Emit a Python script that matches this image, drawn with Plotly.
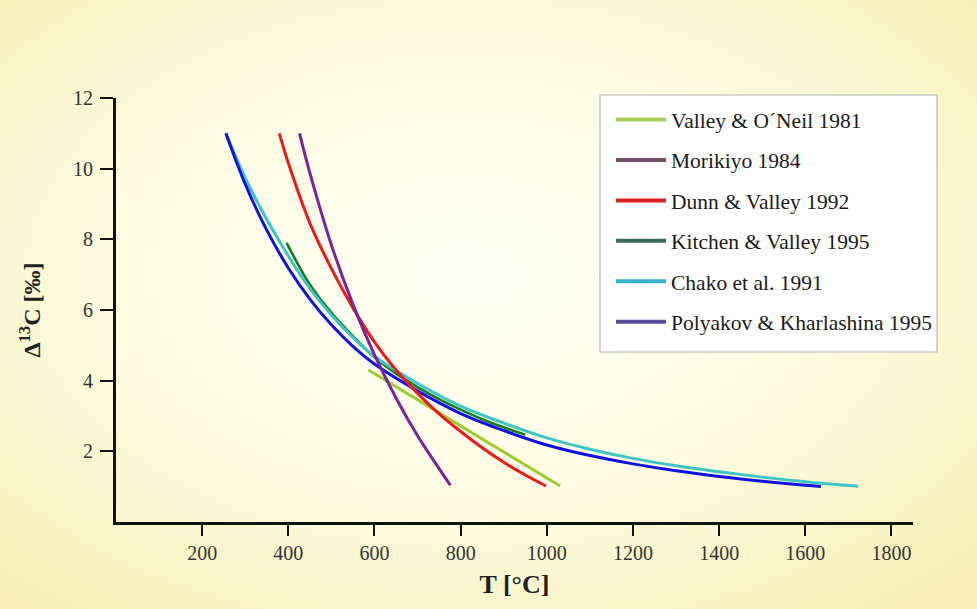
import base64
import plotly.graph_objects as go

# Carbon isotope fractionation calibrations: temperature (°C) vs Δ13C (‰)
series_names = [
    "Valley & O´Neil 1981",
    "Morikiyo 1984",
    "Dunn & Valley 1992",
    "Kitchen & Valley 1995",
    "Chako et al. 1991",
    "Polyakov & Kharlashina 1995",
]

valley_oneil_T = [586, 700, 800, 900, 1031]
valley_oneil_D = [4.30, 3.46, 2.72, 1.98, 1.02]

morikiyo_T = [426, 450, 500, 550, 600, 650, 700, 750, 776]
morikiyo_D = [11.0, 9.88, 7.84, 6.16, 4.73, 3.51, 2.44, 1.51, 1.04]

dunn_valley_T = [379, 400, 450, 500, 550, 600, 650, 700, 750, 800, 850, 900, 950, 998]
dunn_valley_D = [11.0, 10.16, 8.46, 7.17, 6.06, 5.09, 4.30, 3.64, 3.06, 2.56, 2.10, 1.69, 1.33, 1.02]

kitchen_valley_T = [396, 450, 500, 550, 600, 650, 700, 750, 800, 850, 900, 950]
kitchen_valley_D = [7.9, 6.72, 5.92, 5.26, 4.66, 4.20, 3.82, 3.48, 3.18, 2.91, 2.68, 2.47]

chako_T = [255, 300, 350, 400, 450, 500, 550, 600, 700, 800, 900, 1000, 1100, 1200, 1300, 1400, 1500, 1600, 1723]
chako_D = [11.0, 9.74, 8.56, 7.53, 6.61, 5.86, 5.22, 4.69, 3.92, 3.28, 2.80, 2.38, 2.06, 1.80, 1.59, 1.42, 1.27, 1.14, 1.01]

polyakov_T = [255, 300, 350, 400, 450, 500, 550, 600, 700, 800, 900, 1000, 1100, 1200, 1300, 1400, 1500, 1600, 1636]
polyakov_D = [11.0, 9.56, 8.26, 7.19, 6.31, 5.58, 4.97, 4.47, 3.71, 3.07, 2.59, 2.18, 1.88, 1.645, 1.45, 1.29, 1.156, 1.04, 1.005]

x_ticks = [200, 400, 600, 800, 1000, 1200, 1400, 1600, 1800]
y_ticks = [2, 4, 6, 8, 10, 12]

# curve colours and the (muted) legend swatch colours
curve_colors = ["#9dcc2c", "#7b239c", "#ee1a1a", "#177a1c", "#3cc6c6", "#1212e0"]
legend_colors = ["#a3cf58", "#7c4a6c", "#dc2020", "#3a6a5e", "#35b4c8", "#5b4c9a"]
curve_widths = [3, 3, 3, 2.6, 3, 3]

curves = [
    (valley_oneil_T, valley_oneil_D),
    (morikiyo_T, morikiyo_D),
    (dunn_valley_T, dunn_valley_D),
    (kitchen_valley_T, kitchen_valley_D),
    (chako_T, chako_D),
    (polyakov_T, polyakov_D),
]
draw_order = [0, 3, 4, 5, 2, 1]

W, H = 977, 609
ML, MR, MT, MB = 116, 64, 98, 87
PW, PH = W - ML - MR, H - MT - MB


def px_x(px):
    return (px - ML) / PW


def px_y(py):
    return (H - MB - py) / PH


fig = go.Figure()

for i in draw_order:
    t, d = curves[i]
    fig.add_trace(go.Scatter(
        x=t, y=d, mode="lines", showlegend=False, hoverinfo="skip",
        line=dict(color=curve_colors[i], width=curve_widths[i], shape="spline", smoothing=1.0),
    ))

# legend entries
for i, name in enumerate(series_names):
    fig.add_trace(go.Scatter(
        x=[None], y=[None], mode="lines", name=name, legendgroup=str(i),
        line=dict(color=legend_colors[i], width=4),
    ))

# soft cream-to-yellow backdrop
svg = (
    f'<svg xmlns="http://www.w3.org/2000/svg" width="{W}" height="{H}">'
    '<defs><radialGradient id="g" cx="48%" cy="45%" r="70%">'
    '<stop offset="0%" stop-color="#fffff4"/>'
    '<stop offset="50%" stop-color="#fefce4"/>'
    '<stop offset="100%" stop-color="#f7efb6"/>'
    '</radialGradient></defs>'
    f'<rect width="{W}" height="{H}" fill="url(#g)"/></svg>'
)
bg_src = "data:image/svg+xml;base64," + base64.b64encode(svg.encode()).decode()

serif = "Liberation Serif"

fig.update_layout(
    width=W, height=H,
    margin=dict(l=ML, r=MR, t=MT, b=MB),
    paper_bgcolor="#fdf9dc",
    plot_bgcolor="rgba(0,0,0,0)",
    font=dict(family=serif, color="#222222"),
    images=[dict(
        source=bg_src, xref="paper", yref="paper",
        x=-ML / PW, y=1 + MT / PH, sizex=W / PW, sizey=H / PH,
        xanchor="left", yanchor="top", sizing="stretch", layer="below",
    )],
    shapes=[dict(
        type="rect", xref="paper", yref="paper",
        x0=px_x(600), x1=px_x(937), y0=px_y(352), y1=px_y(95),
        fillcolor="#ffffff", line=dict(color="#b4b4b4", width=1.2), layer="above",
    )],
    legend=dict(
        x=px_x(611), y=px_y(99), xanchor="left", yanchor="top",
        bgcolor="rgba(0,0,0,0)", borderwidth=0,
        font=dict(family=serif, size=21.5, color="#1a1a1a"),
        tracegroupgap=9.5, itemwidth=50,
    ),
    xaxis=dict(
        range=[0, 1850], tickvals=x_ticks, showgrid=False, zeroline=False,
        showline=True, linecolor="#111111", linewidth=3,
        ticks="outside", ticklen=11, tickwidth=1.5, tickcolor="#111111",
        tickfont=dict(family=serif, size=20, color="#333333"),
        title=dict(text="<b>T [°C]</b>", font=dict(family=serif, size=26, color="#222222"),
                   standoff=12),
    ),
    yaxis=dict(
        range=[0, 12], tickvals=y_ticks, showgrid=False, zeroline=False,
        showline=True, linecolor="#111111", linewidth=3,
        ticks="outside", ticklen=13, tickwidth=1.5, tickcolor="#111111",
        ticklabelstandoff=3,
        tickfont=dict(family=serif, size=20, color="#333333"),
        title=dict(text="<b>Δ<sup>13</sup>C [‰]</b>",
                   font=dict(family=serif, size=24, color="#222222"), standoff=26),
    ),
)

fig.write_html("out.html")
